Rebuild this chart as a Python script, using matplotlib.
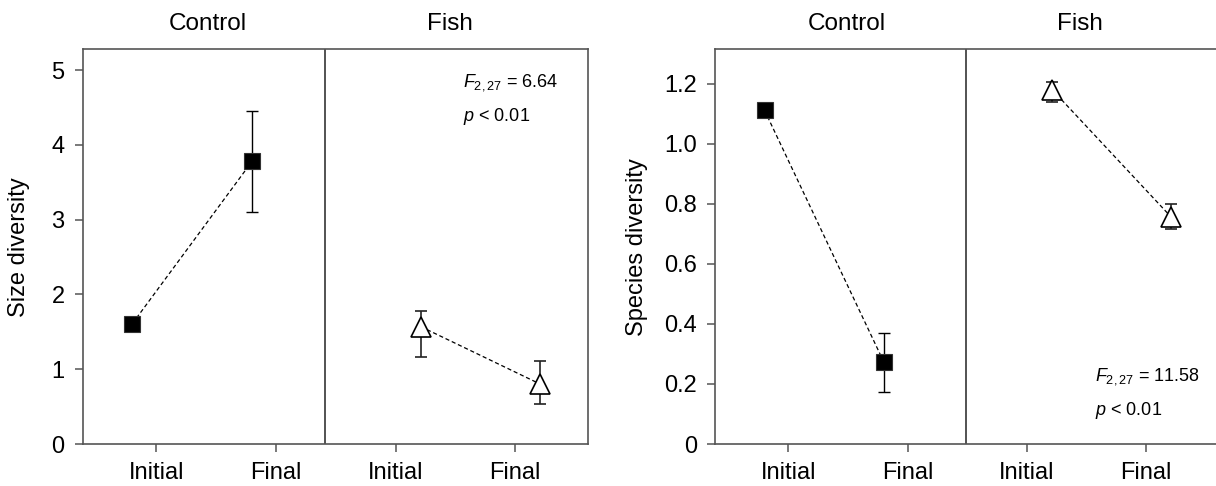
import matplotlib.pyplot as plt
import numpy as np

plt.rcParams['font.family'] = ['Liberation Sans', 'DejaVu Sans']
plt.rcParams['mathtext.fontset'] = 'custom'
plt.rcParams['mathtext.rm'] = 'Liberation Sans'
plt.rcParams['mathtext.it'] = 'Liberation Sans:italic'

groups = ["Control", "Fish"]
times = ["Initial", "Final"]

# size diversity (left panel)
size_control = [1.61, 3.78]
size_control_err_lo = [0.0, 0.68]
size_control_err_hi = [0.0, 0.68]
size_fish = [1.57, 0.80]
size_fish_err_lo = [0.40, 0.27]
size_fish_err_hi = [0.21, 0.31]

# species diversity (right panel)
sp_control = [1.111, 0.273]
sp_control_err_lo = [0.0, 0.10]
sp_control_err_hi = [0.0, 0.097]
sp_fish = [1.18, 0.755]
sp_fish_err_lo = [0.04, 0.038]
sp_fish_err_hi = [0.025, 0.045]

stats_size = ["$F_{\\mathrm{2,27}}$ = 6.64", "$p$ < 0.01"]
stats_species = ["$F_{\\mathrm{2,27}}$ = 11.58", "$p$ < 0.01"]

spine_col = '#555555'


def draw_panel(ax, ctrl, ctrl_lo, ctrl_hi, fish, fish_lo, fish_hi,
               ylim, yticks, ylabels, ylabel, ylabel_x, divider, stats,
               stats_xy, title_x):
    ticks = np.arange(1, 5)
    xc = ticks[:2] - 0.2
    xf = ticks[2:] + 0.21

    ax.plot(xc, ctrl, color='black', lw=0.9, ls=(0, (3.3, 2.2)), zorder=2)
    ax.plot(xf, fish, color='black', lw=0.9, ls=(0, (3.3, 2.2)), zorder=2)
    ax.errorbar(xc, ctrl, yerr=[ctrl_lo, ctrl_hi], fmt='none', ecolor='black',
                elinewidth=1.0, capsize=4.3, capthick=1.0, zorder=3)
    ax.errorbar(xf, fish, yerr=[fish_lo, fish_hi], fmt='none', ecolor='#222222',
                elinewidth=1.2, capsize=4.3, capthick=1.2, zorder=3)
    ax.plot(xc, ctrl, 's', ms=12, mfc='black', mec='#333333', mew=0.8, zorder=4)
    ax.plot(xf, fish, '^', ms=14.5, mfc='white', mec='black', mew=1.2, zorder=4)

    ax.axvline(divider, color='#444444', lw=1.3, zorder=1)

    ax.set_xlim(0.385, 4.61)
    ax.set_ylim(*ylim)
    ax.set_xticks(ticks)
    ax.set_xticklabels(times * 2, fontsize=17)
    ax.set_yticks(yticks)
    ax.set_yticklabels(ylabels, fontsize=17)
    ax.set_ylabel(ylabel, fontsize=17)
    ax.yaxis.set_label_coords(ylabel_x, 0.5)
    ax.tick_params(axis='both', direction='out', length=6, width=1.1,
                   color=spine_col, pad=7)
    for s in ax.spines.values():
        s.set_color(spine_col)
        s.set_linewidth(1.2)

    trans = ax.get_xaxis_transform()
    for g, tx in zip(groups, title_x):
        ax.text(tx, 1.0 + 25 / 394.7, g, transform=trans, ha='center',
                va='center', fontsize=17.5)

    ax.text(stats_xy[0], stats_xy[1], stats[0], transform=ax.transAxes,
            fontsize=13, va='baseline')
    ax.text(stats_xy[0], stats_xy[1] - 0.086, stats[1], transform=ax.transAxes,
            fontsize=13, va='baseline')


fig = plt.figure(figsize=(12.16, 4.86), dpi=100)
ax1 = fig.add_axes([0.068, 0.0864, 0.4158, 0.8122])
ax2 = fig.add_axes([0.588, 0.0864, 0.4145, 0.8122])

draw_panel(ax1, size_control, size_control_err_lo, size_control_err_hi,
           size_fish, size_fish_err_lo, size_fish_err_hi,
           (0, 5.28), range(6), [str(v) for v in range(6)], "Size diversity",
           -0.104, 2.41, stats_size, (0.752, 0.905), (1.43, 3.45))

sp_ticks = [0, 0.2, 0.4, 0.6, 0.8, 1.0, 1.2]
draw_panel(ax2, sp_control, sp_control_err_lo, sp_control_err_hi,
           sp_fish, sp_fish_err_lo, sp_fish_err_hi,
           (0, 1.314), sp_ticks, ["0"] + ["%.1f" % v for v in sp_ticks[1:]],
           "Species diversity", -0.133, 2.49, stats_species, (0.754, 0.16),
           (1.49, 3.44))

fig.savefig("out.png", dpi=100)
